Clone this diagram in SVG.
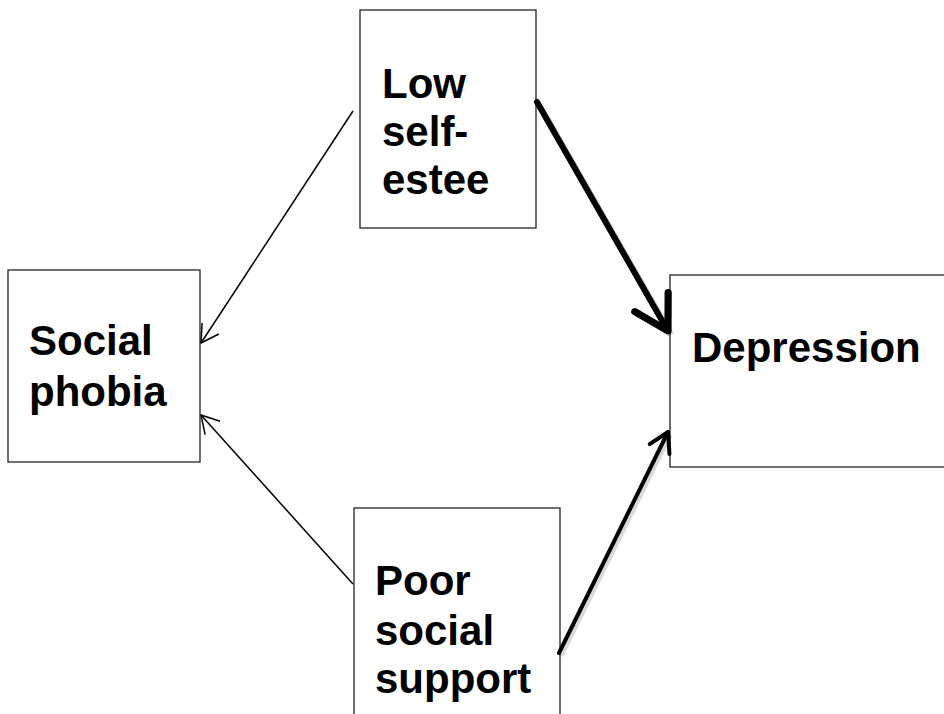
<svg xmlns="http://www.w3.org/2000/svg" width="944" height="714" viewBox="0 0 944 714">
<style>
.box{fill:#fff;stroke:#222;stroke-width:1.3}
.lbl{font-family:"Liberation Sans",Arial,sans-serif;font-weight:bold;font-size:42px;fill:#000}
.thin{stroke:#000;stroke-width:1.5;fill:none}
.med{stroke:#000;stroke-width:4;fill:none;stroke-linecap:round}
.thick{stroke:#000;stroke-width:6;fill:none;stroke-linecap:round}
.shadow{stroke:#000;opacity:0.15;fill:none}
</style>
<defs>
<marker id="mThin" markerUnits="userSpaceOnUse" markerWidth="40" markerHeight="40" refX="0" refY="0" viewBox="-25 -20 30 40" orient="auto" overflow="visible">
<path d="M-17.3,-10 L0,0 L-17.3,10" fill="none" stroke="#000" stroke-width="1.5" stroke-linejoin="round"/>
</marker>
<marker id="mMed" markerUnits="userSpaceOnUse" markerWidth="40" markerHeight="40" refX="0" refY="0" viewBox="-30 -20 35 40" orient="auto" overflow="visible">
<path d="M-19,-11 L0,0 L-19,11" fill="none" stroke="#000" stroke-width="4" stroke-linejoin="round" stroke-linecap="round"/>
</marker>
<marker id="mThick" markerUnits="userSpaceOnUse" markerWidth="60" markerHeight="60" refX="0" refY="0" viewBox="-40 -25 45 50" orient="auto" overflow="visible">
<path d="M-27.7,-16 L0,0 L-27.7,16" fill="none" stroke="#000" stroke-width="6" stroke-linejoin="round" stroke-linecap="round"/>
</marker>
</defs>
<g id="node-low-self-esteem">
<rect class="box" x="360" y="10" width="176" height="218"/>
<text class="lbl" x="382" y="98">Low</text>
<text class="lbl" x="382" y="146">self-</text>
<text class="lbl" x="382" y="194">estee</text>
</g>
<g id="node-social-phobia">
<rect class="box" x="8" y="270" width="192" height="192"/>
<text class="lbl" x="29" y="355">Social</text>
<text class="lbl" x="29" y="406">phobia</text>
</g>
<g id="node-depression">
<rect class="box" x="670" y="275" width="290" height="192"/>
<text class="lbl" x="692" y="362">Depression</text>
</g>
<g id="node-poor-social-support">
<rect class="box" x="354" y="508" width="206" height="220"/>
<text class="lbl" x="375" y="595">Poor</text>
<text class="lbl" x="375" y="645">social</text>
<text class="lbl" x="375" y="693">support</text>
</g>
<g id="connectors">
<line class="shadow" x1="539" y1="105" x2="671" y2="335" stroke-width="7"/>
<line class="shadow" x1="561" y1="656" x2="670" y2="435" stroke-width="5"/>
<line class="thin" x1="353" y1="111" x2="201" y2="343" marker-end="url(#mThin)"/>
<line class="thin" x1="353" y1="584" x2="201" y2="415" marker-end="url(#mThin)"/>
<line class="thick" x1="537" y1="102" x2="668" y2="331" marker-end="url(#mThick)"/>
<line class="med" x1="559" y1="653" x2="668" y2="432" marker-end="url(#mMed)"/>
</g>
</svg>
